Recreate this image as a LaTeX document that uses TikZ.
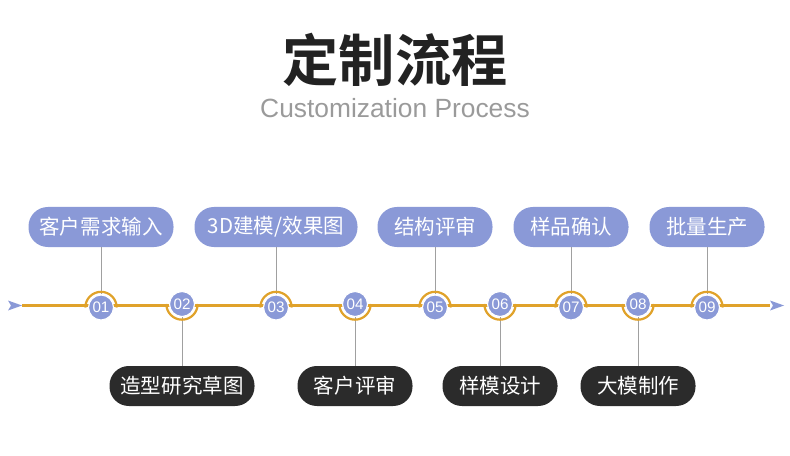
\documentclass[tikz,border=0pt]{standalone}
\usepackage{fontspec}
\usepackage{xcolor}
\usetikzlibrary{arrows.meta,positioning}
\setmainfont{Liberation Sans}
\newfontfamily\cjk{Noto Sans CJK SC}[BoldFont={Noto Sans CJK SC Bold}]
\definecolor{stepblue}{HTML}{8A99D7}
\definecolor{stepdark}{HTML}{2B2B2B}
\definecolor{linegold}{HTML}{E0A22A}
\definecolor{conngray}{HTML}{A0A0A0}
\definecolor{subgray}{HTML}{9A9A9A}
\definecolor{titleink}{HTML}{222222}

\begin{document}
\begin{tikzpicture}[
  x=0.03cm, y=0.03cm,
  upbox/.style={fill=stepblue, text=white, rounded corners=0.58cm, minimum height=1.2cm, inner sep=0pt, font=\cjk\fontsize{17.5}{20}\selectfont},
  downbox/.style={upbox, fill=stepdark},
  numcirc/.style={circle, fill=stepblue, draw=white, line width=1pt, minimum size=0.75cm, inner sep=0pt, text=white, font=\fontsize{13}{14}\selectfont},
  conn/.style={draw=conngray, line width=0.8pt},
  timeline/.style={draw=linegold, line width=1.8pt},
  goldarc/.style={draw=linegold, line width=1.9pt}
]
\useasboundingbox (0,0) rectangle (790,-456);

% title
\node[font=\cjk\bfseries\fontsize{48}{52}\selectfont, text=titleink] (title) at (395,-60) {定制流程};
\node[font=\fontsize{22.5}{26}\selectfont, text=subgray] (subtitle) at (395,-108) {Customization Process};

% timeline
\coordinate (tl) at (22,-305.5);
\coordinate (tr) at (770,-305.5);
\draw[timeline] (tl) -- (tr);
\fill[stepblue] (tl) -- ++(-14,5) -- ++(3,-5) -- ++(-3,-5) -- cycle;
\fill[stepblue] (tr) ++(14,0) -- ++(-14,5) -- ++(3,-5) -- ++(-3,-5) -- cycle;

% numbered steps
\foreach \i/\x/\y in {1/101/-307.5, 2/182/-304, 3/276/-307.5, 4/355/-304, 5/435/-307.5,
                      6/500/-304, 7/571/-307.5, 8/638/-304, 9/707/-307.5}{
  \node[numcirc] (n\i) at (\x,\y) {0\i};
}

% boxes above and below
\foreach \i/\w/\txt in {1/145/客户需求输入, 3/163/{3D建模/效果图}, 5/115/结构评审, 7/115/样品确认, 9/115/批量生产}{
  \node[upbox, minimum width=\w*0.03cm] (b\i) at (n\i |- 0,-227) {\txt};
  \draw[conn] (b\i) -- (n\i);
  \draw[goldarc] ([shift={(180:0.47cm)}]n\i.center) arc[start angle=180, end angle=0, radius=0.47cm];
}
\foreach \i/\w/\txt in {2/145/造型研究草图, 4/115/客户评审, 6/115/样模设计, 8/115/大模制作}{
  \node[downbox, minimum width=\w*0.03cm] (b\i) at (n\i |- 0,-386) {\txt};
  \draw[conn] (n\i) -- (b\i);
  \draw[goldarc] ([shift={(180:0.47cm)}]n\i.center) arc[start angle=180, end angle=360, radius=0.47cm];
}
\end{tikzpicture}
\end{document}
